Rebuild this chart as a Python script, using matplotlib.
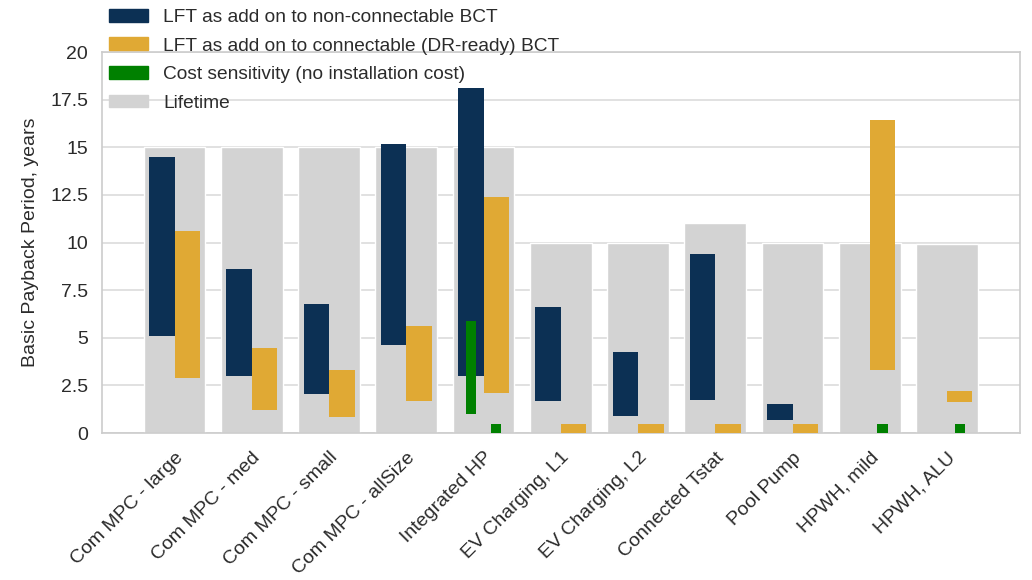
import numpy as np
import matplotlib.pyplot as plt
from matplotlib.patches import Patch

plt.rcParams['font.family'] = ['Liberation Sans', 'DejaVu Sans']

categories = ['Com MPC - large', 'Com MPC - med', 'Com MPC - small', 'Com MPC - allSize',
              'Integrated HP', 'EV Charging, L1', 'EV Charging, L2', 'Connected Tstat',
              'Pool Pump', 'HPWH, mild', 'HPWH, ALU']
nan = np.nan
lifetime = [15, 15, 15, 15, 15, 10, 10, 11, 10, 10, 9.9]
# payback ranges (low, high)
non_conn_low = [5.1, 3.0, 2.05, 4.6, 3.0, 1.7, 0.9, 1.75, 0.7, nan, nan]
non_conn_high = [14.5, 8.6, 6.75, 15.15, 18.1, 6.6, 4.25, 9.4, 1.5, nan, nan]
conn_low = [2.9, 1.2, 0.85, 1.7, 2.1, 0.0, 0.0, 0.0, 0.0, 3.3, 1.65]
conn_high = [10.6, 4.45, 3.3, 5.6, 12.4, 0.5, 0.5, 0.5, 0.5, 16.45, 2.2]
# cost sensitivity (no installation cost)
sens_non_low = [nan, nan, nan, nan, 1.0, nan, nan, nan, nan, nan, nan]
sens_non_high = [nan, nan, nan, nan, 5.9, nan, nan, nan, nan, nan, nan]
sens_conn_low = [nan, nan, nan, nan, 0.0, nan, nan, nan, nan, 0.0, 0.0]
sens_conn_high = [nan, nan, nan, nan, 0.5, nan, nan, nan, nan, 0.5, 0.5]

NAVY = '#0c3054'
ORANGE = '#e0a934'
GREEN = '#008000'
GRAY = '#d3d3d3'
TXT = '#2b2b2b'

x = np.arange(len(categories))
off = 0.165
w = 0.33
gw = 0.13

fig = plt.figure(figsize=(10.32, 5.8), dpi=100)
ax = fig.add_axes([0.0988, 0.2534, 0.8892, 0.6569])

ax.bar(x, lifetime, width=0.8, color=GRAY, edgecolor='white', linewidth=1, zorder=2)


def span(lo, hi):
    lo = np.array(lo, dtype=float)
    hi = np.array(hi, dtype=float)
    return lo, hi - lo


lo, h = span(non_conn_low, non_conn_high)
ax.bar(x - off, h, bottom=lo, width=w, color=NAVY, zorder=3)
lo, h = span(conn_low, conn_high)
ax.bar(x + off, h, bottom=lo, width=w, color=ORANGE, zorder=3)
lo, h = span(sens_non_low, sens_non_high)
ax.bar(x - off, h, bottom=lo, width=gw, color=GREEN, zorder=4)
lo, h = span(sens_conn_low, sens_conn_high)
ax.bar(x + off, h, bottom=lo, width=gw, color=GREEN, zorder=4)

ax.set_xlim(-0.94, 10.94)
ax.set_ylim(0, 20)
ax.set_yticks([0, 2.5, 5, 7.5, 10, 12.5, 15, 17.5, 20])
ax.set_yticklabels(['0', '2.5', '5', '7.5', '10', '12.5', '15', '17.5', '20'])
ax.set_xticks(x)
ax.set_xticklabels(categories, rotation=45, ha='right', va='top',
                   rotation_mode='anchor', fontsize=14, color=TXT)
ax.tick_params(axis='y', labelsize=14, labelcolor=TXT, length=0, pad=10)
ax.tick_params(axis='x', length=0, pad=11.5)
ax.grid(axis='y', color='#dcdcdc', linewidth=1.2, zorder=0)
ax.set_axisbelow(True)
for s in ax.spines.values():
    s.set_color('#cccccc')
    s.set_linewidth(1.2)
ax.set_ylabel('Basic Payback Period, years', fontsize=14, color=TXT, labelpad=8)

handles = [Patch(color=NAVY, label='LFT as add on to non-connectable BCT'),
           Patch(color=ORANGE, label='LFT as add on to connectable (DR-ready) BCT'),
           Patch(color=GREEN, label='Cost sensitivity (no installation cost)'),
           Patch(color=GRAY, label='Lifetime')]
leg = fig.legend(handles=handles, loc='upper left', bbox_to_anchor=(0.093, 1.008),
                 frameon=False, fontsize=13.8, handlelength=2.0, handleheight=0.65,
                 handletextpad=0.8, labelspacing=0.6, borderpad=0.2)
for t in leg.get_texts():
    t.set_color(TXT)

fig.savefig('out.png', dpi=100)
